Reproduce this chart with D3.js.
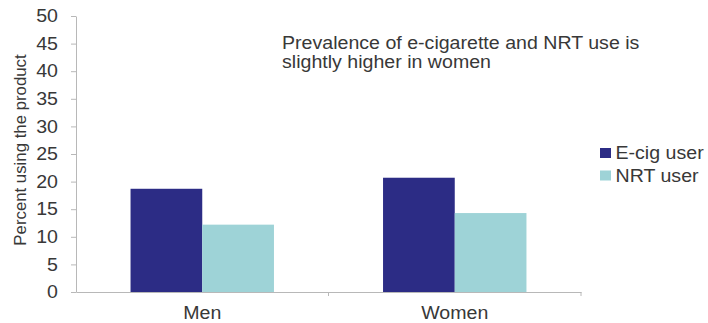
<!DOCTYPE html>
<html>
<head>
<meta charset="utf-8">
<script src="https://cdn.jsdelivr.net/npm/d3@7"></script>
<style>
  html, body { margin: 0; padding: 0; background: #fff; }
  svg { display: block; font-family: Arial, "Liberation Sans", sans-serif; }
</style>
</head>
<body>
<svg id="chart" width="708" height="323"></svg>
<script>
// Groups, series and values (percent using the product)
const groups = ["Men", "Women"];
const seriesNames = ["E-cig user", "NRT user"];
const ecigValues = [18.7, 20.7];
const nrtValues = [12.2, 14.3];
const yTicks = [0, 5, 10, 15, 20, 25, 30, 35, 40, 45, 50];
const seriesColors = ["#2c2c85", "#9ed3d7"];
const note = ["Prevalence of e-cigarette and NRT use is", "slightly higher in women"];

const rows = groups.map((g, i) => ({ group: g, values: [ecigValues[i], nrtValues[i]] }));

const svg = d3.select("#chart");
const plotLeft = 76, plotRight = 581, plotTop = 16, plotBottom = 292;
const fontSize = "17.5px";
const sx = 1.12; // horizontal widening of the lettering

const y = d3.scaleLinear().domain([0, 50]).range([plotBottom, plotTop]);
const x0 = d3.scaleBand().domain(groups).range([plotLeft, plotRight]).padding(0);
const bw = x0.bandwidth();
const x1 = d3.scaleBand().domain(seriesNames)
  .range([bw * 0.216, bw * 0.784]).padding(0);
const color = d3.scaleOrdinal().domain(seriesNames).range(seriesColors);

const axisColor = "#b8b8b8";
const textColor = "#383838";

// Bars
const g = svg.append("g");
g.selectAll("g.grp").data(rows).enter().append("g")
  .attr("class", "grp")
  .attr("transform", d => `translate(${x0(d.group)},0)`)
  .selectAll("rect")
  .data(d => d.values.map((v, i) => ({ key: seriesNames[i], value: v })))
  .enter().append("rect")
  .attr("x", d => x1(d.key))
  .attr("width", x1.bandwidth())
  .attr("y", d => y(d.value))
  .attr("height", d => y(0) - y(d.value))
  .attr("fill", d => color(d.key));

// Y axis
const yAxis = svg.append("g")
  .attr("transform", `translate(${plotLeft},0)`)
  .call(d3.axisLeft(y).tickValues(yTicks).tickSize(5).tickPadding(13).tickSizeOuter(0));
yAxis.select(".domain").attr("stroke", axisColor);
yAxis.selectAll(".tick line").attr("stroke", axisColor);
yAxis.selectAll(".tick text")
  .attr("x", -18 / sx)
  .attr("transform", `scale(${sx},1)`)
  .attr("fill", textColor)
  .style("font-size", fontSize)
  .style("font-family", "Arial, 'Liberation Sans', sans-serif");

// X axis
const xAxis = svg.append("g")
  .attr("transform", `translate(0,${plotBottom})`)
  .call(d3.axisBottom(x0).tickSize(0).tickPadding(14.6).tickSizeOuter(0));
xAxis.select(".domain").attr("stroke", axisColor);
xAxis.selectAll(".tick text")
  .attr("transform", `scale(${sx},1)`)
  .attr("fill", textColor)
  .style("font-size", fontSize)
  .style("font-family", "Arial, 'Liberation Sans', sans-serif");
// divider ticks between categories and at the right end
const dividers = [x0(groups[1]), plotRight];
svg.selectAll("line.div").data(dividers).enter().append("line")
  .attr("class", "div")
  .attr("x1", d => d).attr("x2", d => d)
  .attr("y1", plotBottom).attr("y2", plotBottom + 4)
  .attr("stroke", axisColor);

// Y axis title
svg.append("text")
  .attr("transform", `translate(26,150) rotate(-90)`)
  .attr("text-anchor", "middle")
  .attr("fill", textColor)
  .style("font-size", "16.8px")
  .text("Percent using the product");

// Annotation
const noteText = svg.append("g")
  .attr("transform", `translate(282,49) scale(${sx},1)`)
  .append("text")
  .attr("fill", textColor)
  .style("font-size", fontSize);
note.forEach((line, i) => {
  noteText.append("tspan").attr("x", 0).attr("dy", i === 0 ? 0 : 19).text(line);
});

// Legend
const legend = svg.append("g").attr("transform", "translate(600,148)");
seriesNames.forEach((name, i) => {
  const row = legend.append("g").attr("transform", `translate(0,${i * 22.5})`);
  row.append("rect").attr("width", 11).attr("height", 10).attr("fill", color(name));
  row.append("g").attr("transform", `translate(15.5,5) scale(${sx},1)`)
    .append("text").attr("dy", "0.35em")
    .attr("fill", textColor).style("font-size", fontSize).text(name);
});
</script>
</body>
</html>
